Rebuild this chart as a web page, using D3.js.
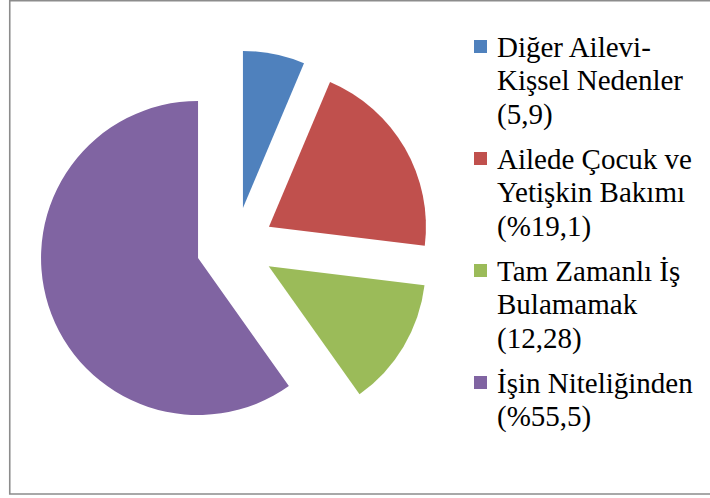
<!DOCTYPE html>
<html>
<head>
<meta charset="utf-8">
<script src="https://cdn.jsdelivr.net/npm/d3@7"></script>
<style>
  body { margin: 0; background: #fff; }
  svg { display: block; }
</style>
</head>
<body>
<div id="chart"></div>
<script>
// Chart data
let categories = ['Diğer Ailevi-Kişsel Nedenler', 'Ailede Çocuk ve Yetişkin Bakımı', 'Tam Zamanlı İş Bulamamak', 'İşin Niteliğinden'];
let values = [5.9, 19.1, 12.28, 55.5];
let legendLines = [
    ['Diğer Ailevi-', 'Kişsel Nedenler', '(5,9)'],
    ['Ailede Çocuk ve', 'Yetişkin Bakımı', '(%19,1)'],
    ['Tam Zamanlı İş', 'Bulamamak', '(12,28)'],
    ['İşin Niteliğinden', '(%55,5)']
];
let colors = ['#4F81BD', '#C0504D', '#9BBB59', '#8064A2'];

// Set svg dimensions
let svgWidth = 710;
let svgHeight = 498;

let svg = d3.select('#chart').append('svg')
    .attr('width', svgWidth)
    .attr('height', svgHeight);

// Chart area border (right side is cut off in the original)
svg.append('path')
    .attr('d', `M${svgWidth + 2},0.75 H9.75 V494 H${svgWidth + 2}`)
    .attr('fill', 'none')
    .attr('stroke', '#8c8c8c')
    .attr('stroke-width', 1.6);

// Pie settings
let cx = 235.2;
let cy = 246.2;
let radius = 157;
let explode = 39;

let pie = d3.pie().sort(null).value(d => d);
let arc = d3.arc().innerRadius(0).outerRadius(radius);

let pieGroup = svg.append('g')
    .attr('transform', `translate(${cx}, ${cy})`);

// Each slice pulled out along its bisector
pieGroup.selectAll('path.slice')
    .data(pie(values)).enter()
    .append('path')
    .attr('class', 'slice')
    .attr('d', arc)
    .attr('fill', (d, i) => colors[i])
    .attr('transform', d => {
        let mid = (d.startAngle + d.endAngle) / 2;
        return `translate(${explode * Math.sin(mid)}, ${-explode * Math.cos(mid)})`;
    });

// Legend
let legendX = 474;
let textX = 497;
let firstBaseline = 57;
let entryStep = 112;
let lineStep = 33.3;
let boxSize = 13;

categories.forEach((name, i) => {
    let y0 = firstBaseline + i * entryStep;
    svg.append('rect')
        .attr('x', legendX)
        .attr('y', y0 - 17)
        .attr('width', boxSize)
        .attr('height', boxSize)
        .attr('fill', colors[i]);

    let label = svg.append('text')
        .style('font-family', "'Liberation Serif'")
        .style('font-size', '29px');
    legendLines[i].forEach((line, j) => {
        label.append('tspan')
            .attr('x', textX)
            .attr('y', y0 + j * lineStep)
            .text(line);
    });
});
</script>
</body>
</html>
